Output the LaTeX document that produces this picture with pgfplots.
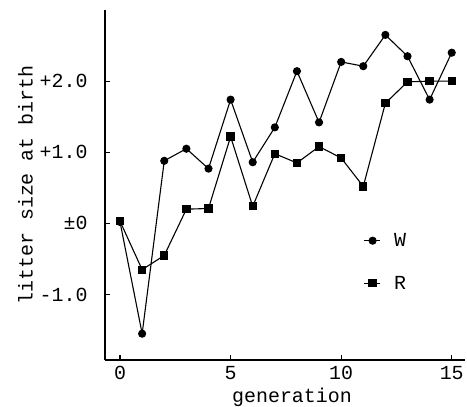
\documentclass[border=0pt]{standalone}
\usepackage{fontspec}
\setmainfont{Liberation Mono}
\usepackage{pgfplots}
\pgfplotsset{compat=1.18}
\usetikzlibrary{calc}
\begin{document}
\begin{tikzpicture}
\begin{axis}[name=ax, scale only axis, width=360bp, height=350bp,
  xmin=-0.68, xmax=15.6, ymin=-1.92, ymax=3.0,
  axis x line*=bottom, axis y line*=left,
  axis line style={line width=2bp},
  xtick={0,5,10,15}, ytick={-1,0,1,2},
  yticklabels={{-1.0},{±0},{+1.0},{+2.0}},
  tick align=inside, major tick length=5bp,
  tick style={line width=1.2bp, black},
  font=\fontsize{20}{24}\selectfont,
  ticklabel style={font=\fontsize{20}{24}\selectfont},
  yticklabel style={xshift=-14bp},
  xticklabel style={yshift=-5bp, inner sep=1bp},
  /pgf/number format/assume math mode=true,
  xlabel={generation}, ylabel={litter size at birth},
  xlabel style={at={(rel axis cs:0.5,0)}, anchor=base, yshift=-42bp, xshift=7bp, inner sep=0pt},
  ylabel style={yshift=0bp},
  every axis plot/.append style={line width=1.1bp, black},
  legend style={draw=none, fill=none, at={(rel axis cs:0.708,0.28)}, anchor=west,
    row sep=24bp, font=\fontsize{20}{24}\selectfont},
  legend cell align=left,
  legend image code/.code={\draw[mark repeat=2,mark phase=2] plot coordinates {(0bp,0bp)(9bp,0bp)(16bp,0bp)};},
  /tikz/every odd column/.append style={column sep=12bp},
]
\addplot[mark=*, mark size=3.5bp] coordinates {
(0,0.02)(1,-1.55)(2,0.88)(3,1.05)(4,0.77)(5,1.74)(6,0.86)(7,1.35)(8,2.14)(9,1.42)(10,2.27)(11,2.21)(12,2.65)(13,2.35)(14,1.74)(15,2.4)};
\addlegendentry{W}
\addplot[mark=square*, mark size=3.6bp] coordinates {
(0,0.03)(1,-0.65)(2,-0.45)(3,0.2)(4,0.21)(5,1.22)(6,0.24)(7,0.98)(8,0.85)(9,1.08)(10,0.92)(11,0.52)(12,1.69)(13,1.99)(14,2.0)(15,2.0)};
\addlegendentry{R}
\end{axis}
\pgfresetboundingbox
\path ($(ax.south west)+(-105bp,-47bp)$) rectangle ($(ax.north east)+(2bp,10bp)$);
\end{tikzpicture}
\end{document}
